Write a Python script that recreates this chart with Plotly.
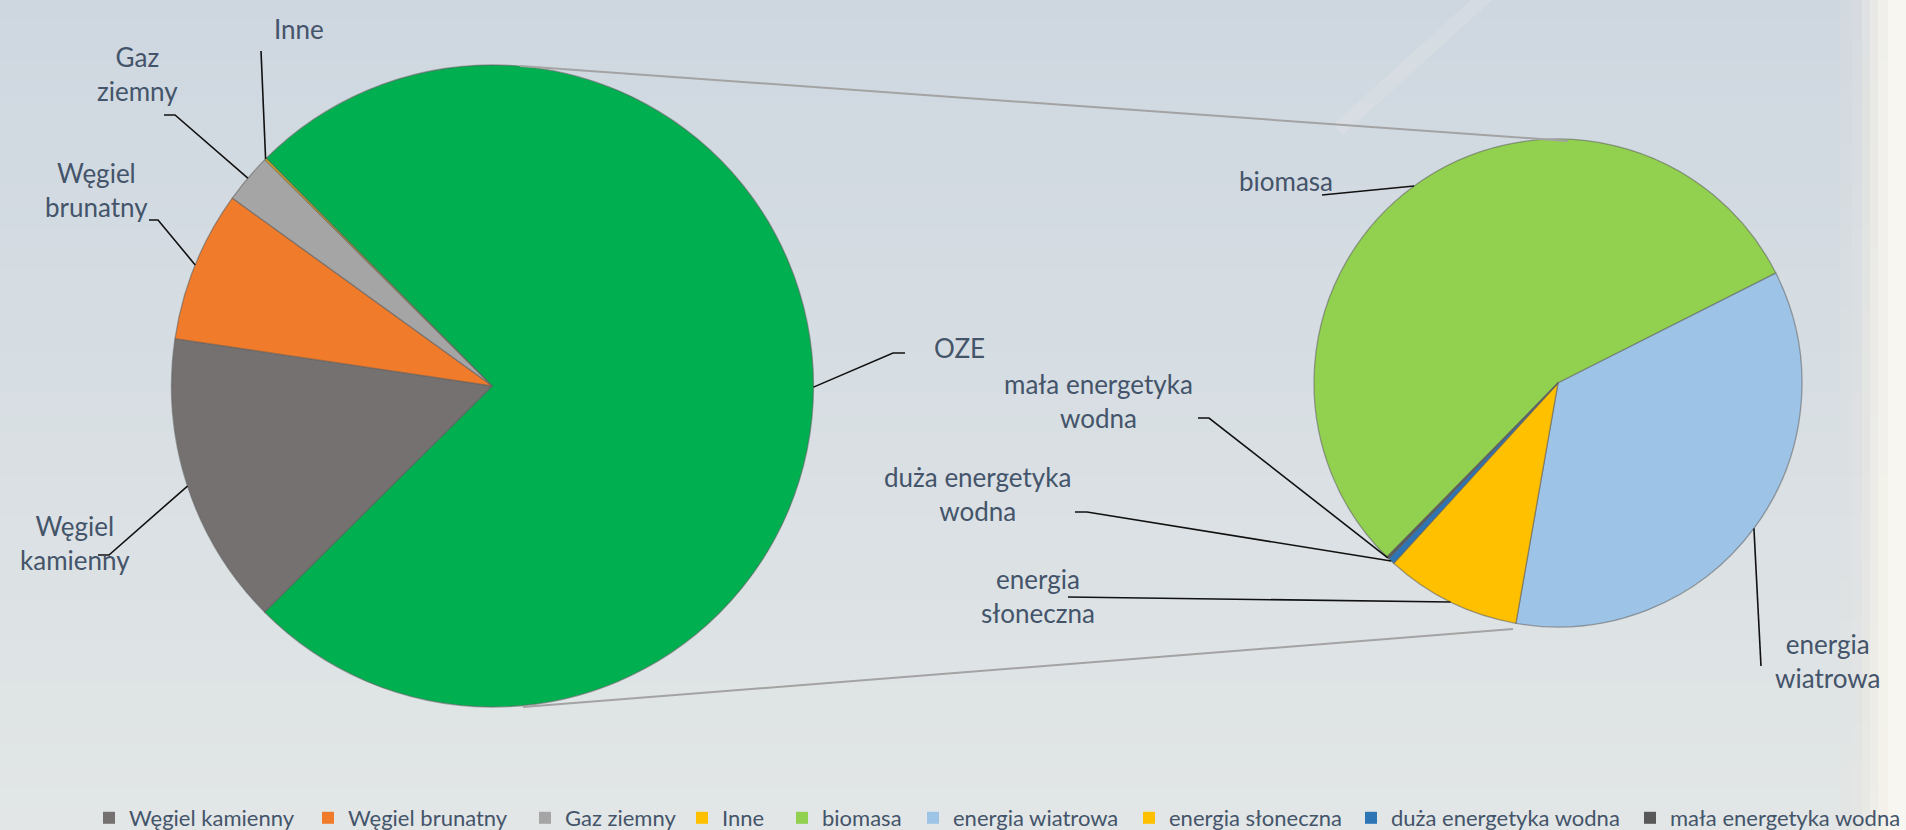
import math
import plotly.graph_objects as go

W, H = 1906, 830

# ---------------- data ----------------
main_labels = ["Węgiel kamienny", "Węgiel brunatny", "Gaz ziemny", "Inne", "OZE"]
main_values = [14.8, 7.6, 2.5, 0.1, 75.0]
main_colors = ["#767171", "#EF7B2B", "#A5A5A5", "#FFC000", "#00B050"]

oze_labels = ["biomasa", "energia wiatrowa", "energia słoneczna",
              "duża energetyka wodna", "mała energetyka wodna"]
oze_values = [55.2, 35.2, 9.0, 0.45, 0.15]
oze_colors = ["#92D050", "#9DC3E6", "#FFC000", "#2E75B6", "#595959"]

legend_labels = main_labels[:4] + oze_labels
legend_colors = main_colors[:4] + oze_colors

# ---------------- layout geometry (pixels) ----------------
L_CX, L_CY, L_R, L_ROT = 492.5, 386.0, 321.0, 225.2
R_CX, R_CY, R_R, R_ROT = 1558.0, 383.0, 244.0, 224.5
legend_marker_left_px = [108, 327, 544, 701, 801, 932, 1148, 1370, 1649]
LEGEND_Y_PX = 818

TEXT_COLOR = "#44546A"
FONT = "Lato, 'Open Sans', sans-serif"


def px(x):
    return x / W


def py(y):
    return 1 - y / H


def domain(cx, cy, r):
    return dict(x=[px(cx - r), px(cx + r)], y=[py(cy + r), py(cy - r)])


def edge_point(cx, cy, r, rot, values, i):
    total = sum(values)
    start = rot + 360.0 * sum(values[:i]) / total
    mid = start + 180.0 * values[i] / total
    a = math.radians(mid)
    return cx + r * math.sin(a), cy - r * math.cos(a)


fig = go.Figure()

line_style = dict(color="rgba(95,95,95,0.55)", width=1.3)

fig.add_trace(go.Pie(
    labels=main_labels, values=main_values, sort=False,
    direction="clockwise", rotation=L_ROT,
    marker=dict(colors=main_colors, line=line_style),
    textinfo="none", hoverinfo="label+percent", showlegend=False,
    domain=domain(L_CX, L_CY, L_R),
))
fig.add_trace(go.Pie(
    labels=oze_labels, values=oze_values, sort=False,
    direction="clockwise", rotation=R_ROT,
    marker=dict(colors=oze_colors, line=line_style),
    textinfo="none", hoverinfo="label+percent", showlegend=False,
    domain=domain(R_CX, R_CY, R_R),
))

# legend entries (OZE is not listed, as in the original); one legend box each
legend_layouts = {}
for k, (lab, col, mx) in enumerate(zip(legend_labels, legend_colors, legend_marker_left_px)):
    key = "legend" if k == 0 else "legend%d" % (k + 1)
    fig.add_trace(go.Scatter(
        x=[None], y=[None], mode="markers", name=lab, legend=key,
        marker=dict(symbol="square", size=12, color=col),
        hoverinfo="skip",
    ))
    legend_layouts[key] = dict(
        orientation="h", x=px(mx - 19), y=py(LEGEND_Y_PX),
        xanchor="left", yanchor="middle", bgcolor="rgba(0,0,0,0)",
        borderwidth=0,
        font=dict(family=FONT, size=22, color=TEXT_COLOR),
        itemclick=False, itemdoubleclick=False,
    )

shapes = []

# background: vertical gradient made of bands
top_c = (206, 215, 224)
bot_c = (226, 230, 230)
n_bands = 40
for k in range(n_bands):
    t = k / (n_bands - 1)
    c = tuple(round(top_c[j] + (bot_c[j] - top_c[j]) * t) for j in range(3))
    shapes.append(dict(type="rect", xref="paper", yref="paper", layer="below",
                       x0=-0.01, x1=1.01, y0=1 - (k + 1) / n_bands - 0.002,
                       y1=1 - k / n_bands + 0.002,
                       line=dict(width=0), fillcolor="rgb(%d,%d,%d)" % c))
# light band at the right edge (soft edge)
for x0, x1, col in [(1840, 1852, "rgba(232,226,220,0.15)"),
                    (1852, 1862, "rgba(236,230,224,0.30)"),
                    (1862, 1870, "rgba(240,235,228,0.50)"),
                    (1870, 1878, "rgba(243,239,232,0.70)"),
                    (1878, 1888, "rgba(245,242,235,0.88)"),
                    (1888, 1910, "rgba(248,246,240,1.0)")]:
    shapes.append(dict(type="rect", xref="paper", yref="paper", layer="below",
                       x0=px(x0), x1=px(x1), y0=-0.01, y1=1.01,
                       line=dict(width=0), fillcolor=col))
# faint light streak in the sky
shapes.append(dict(type="line", xref="paper", yref="paper", layer="below",
                   x0=px(1487), y0=py(-5), x1=px(1338), y1=py(130),
                   line=dict(color="rgba(236,238,234,0.22)", width=14)))

# connector lines between the pies
shapes.append(dict(type="line", xref="paper", yref="paper",
                   x0=px(520), y0=py(66), x1=px(1568), y1=py(141),
                   line=dict(color="#A3A3A3", width=2)))
shapes.append(dict(type="line", xref="paper", yref="paper",
                   x0=px(523), y0=py(707), x1=px(1513), y1=py(629),
                   line=dict(color="#A3A3A3", width=2)))

# data labels with leader lines: (text, text centre x, y, leader start points)
label_specs = {
    ("L", "Inne"): ("Inne", 299, 29, [(261, 51)]),
    ("L", "Gaz ziemny"): ("Gaz<br>ziemny", 137, 74, [(164, 115), (175, 115)]),
    ("L", "Węgiel brunatny"): ("Węgiel<br>brunatny", 96, 190, [(149, 220), (158, 220)]),
    ("L", "Węgiel kamienny"): ("Węgiel<br>kamienny", 75, 543, [(98, 555), (109, 555)]),
    ("L", "OZE"): ("OZE", 960, 348, [(905, 353), (893, 353)]),
    ("R", "biomasa"): ("biomasa", 1286, 181, [(1322, 195)]),
    ("R", "energia wiatrowa"): ("energia<br>wiatrowa", 1827, 661, [(1761, 666)]),
    ("R", "energia słoneczna"): ("energia<br>słoneczna", 1038, 596, [(1068, 597)]),
    ("R", "duża energetyka wodna"): ("duża energetyka<br>wodna", 977, 494, [(1075, 512), (1087, 512)]),
    ("R", "mała energetyka wodna"): ("mała energetyka<br>wodna", 1098, 401, [(1198, 418), (1209, 418)]),
}

annotations = []
for (side, lab), (txt, tx, ty, pts) in label_specs.items():
    if side == "L":
        i = main_labels.index(lab)
        ex, ey = edge_point(L_CX, L_CY, L_R, L_ROT, main_values, i)
    else:
        i = oze_labels.index(lab)
        ex, ey = edge_point(R_CX, R_CY, R_R, R_ROT, oze_values, i)
    allp = pts + [(ex, ey)]
    path = "M " + " L ".join("%.5f,%.5f" % (px(a), py(b)) for a, b in allp)
    shapes.append(dict(type="path", xref="paper", yref="paper", path=path,
                       line=dict(color="#111111", width=1.6)))
    annotations.append(dict(text=txt, x=px(tx), y=py(ty), xref="paper", yref="paper",
                            xanchor="center", yanchor="middle", align="center",
                            showarrow=False,
                            font=dict(family=FONT, size=26, color=TEXT_COLOR)))

fig.update_layout(
    width=W, height=H,
    margin=dict(l=0, r=0, t=0, b=0, autoexpand=False),
    paper_bgcolor="rgb(226,230,230)",
    plot_bgcolor="rgba(0,0,0,0)",
    xaxis=dict(visible=False, domain=[0, 0.01]),
    yaxis=dict(visible=False, domain=[0.99, 1]),
    shapes=shapes,
    annotations=annotations,
    showlegend=True,
    font=dict(family=FONT, color=TEXT_COLOR),
    **legend_layouts,
)

fig.write_html("out.html")
